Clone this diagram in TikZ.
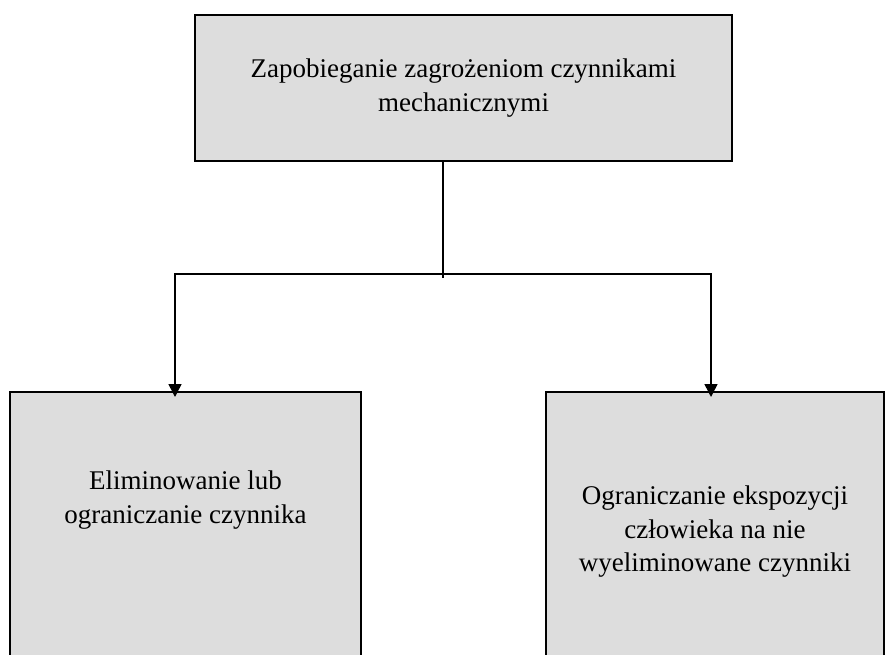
\documentclass[tikz,border=0pt]{standalone}
\usepackage{fontspec}
\setmainfont{Liberation Serif}
\usetikzlibrary{arrows.meta}
\definecolor{boxgray}{RGB}{221,221,221}
\begin{document}
\begin{tikzpicture}[x=1pt,y=-1pt,
  boxstyle/.style={draw=black, line width=1.6pt, fill=boxgray, outer sep=0pt, inner sep=0pt},
  txt/.style={align=center, font=\fontsize{27}{33.5}\selectfont, inner sep=0pt},
  conn/.style={line width=1.5pt},
  arr/.style={conn, -{Triangle[width=13pt,length=13pt]}}]
\useasboundingbox (0,0) rectangle (885,655);
\clip (0,0) rectangle (885,655);
% boxes
\node[boxstyle, txt, minimum width=537pt, minimum height=146pt] (top) at (463.5,88)
  {Zapobieganie zagrożeniom czynnikami\\mechanicznymi};
\node[boxstyle, minimum width=351pt, minimum height=320pt, anchor=north west] (left) at (10,392) {};
\node[boxstyle, minimum width=338pt, minimum height=320pt, anchor=north west] (right) at (546,392) {};
\node[txt] (lefttext) at (185.5,500) {Eliminowanie lub\\ograniczanie czynnika};
\node[txt] (righttext) at (715,532) {Ograniczanie ekspozycji\\człowieka na nie\\wyeliminowane czynniki};
% connectors
\coordinate (j) at (443,274);
\coordinate (jend) at (443,278);
\coordinate (jl) at (175,274);
\coordinate (jr) at (711,274);
\draw[conn] (top.south -| j) -- (jend);
\draw[arr, shorten >=-5pt] (j) -- (jl) -- (jl |- left.north);
\draw[arr, shorten >=-5pt] (j) -- (jr) -- (jr |- right.north);
\end{tikzpicture}
\end{document}
